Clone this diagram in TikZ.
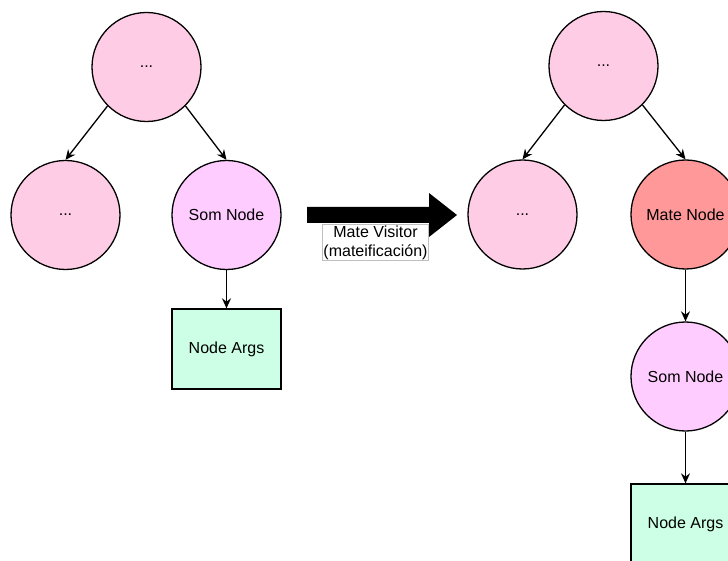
\documentclass[tikz,border=0pt]{standalone}
\usepackage{fontspec}
\setmainfont{Liberation Sans}
\usetikzlibrary{arrows.meta}

\definecolor{treepink}{HTML}{FFCCE6}
\definecolor{sompink}{HTML}{FFCCFF}
\definecolor{matered}{HTML}{FF9999}
\definecolor{argsgreen}{HTML}{CCFFE6}

\begin{document}
\begin{tikzpicture}[x=10pt,y=10pt,line width=1.3pt,
		>={Stealth[length=10pt,width=9pt]}]
			\tikzstyle{every node}+=[inner sep=0pt,font=\fontsize{16}{19}\selectfont]
			\tikzstyle{treenode}=[circle,draw=black,minimum size=109pt]
			\tikzstyle{argsbox}=[rectangle,draw=black,fill=argsgreen,minimum width=109pt,minimum height=80pt]
			\useasboundingbox (0,0) rectangle (72.8,-56.1);
			\clip (0,0) rectangle (72.8,-56.1);
			% left tree
			\node [treenode,fill=treepink] (r1) at (14.65,-6.7) {...};
			\node [treenode,fill=treepink] (a1) at (6.55,-21.5) {...};
			\node [treenode,fill=sompink] (s1) at (22.65,-21.5) {Som Node};
			\node [argsbox] (g1) at (22.65,-34.9) {Node Args};
			\draw [->] (r1.south west) -- (a1.north);
			\draw [->] (r1.south east) -- (s1.north);
			\draw [->] (s1) -- (g1);
			% big arrow
			\fill [black] (30.7,-20.7) -- (42.9,-20.7) -- (42.9,-19.3) -- (45.7,-21.5)
				-- (42.9,-23.7) -- (42.9,-22.3) -- (30.7,-22.3) -- cycle;
			\node [draw=black!25,line width=0.6pt,fill=white,align=center,inner sep=1pt]
				(lbl) at (37.55,-24.25) {Mate Visitor\\(mateificación)};
			% right tree
			\node [treenode,fill=treepink] (r2) at (60.35,-6.6) {...};
			\node [treenode,fill=treepink] (a2) at (52.25,-21.45) {...};
			\node [treenode,fill=matered] (m2) at (68.55,-21.45) {Mate Node};
			\node [treenode,fill=sompink] (s2) at (68.55,-37.65) {Som Node};
			\node [argsbox] (g2) at (68.55,-52.4) {Node Args};
			\draw [->] (r2.south west) -- (a2.north);
			\draw [->] (r2.south east) -- (m2.north);
			\draw [->] (m2) -- (s2);
			\draw [->] (s2) -- (g2);
		\end{tikzpicture}
\end{document}
